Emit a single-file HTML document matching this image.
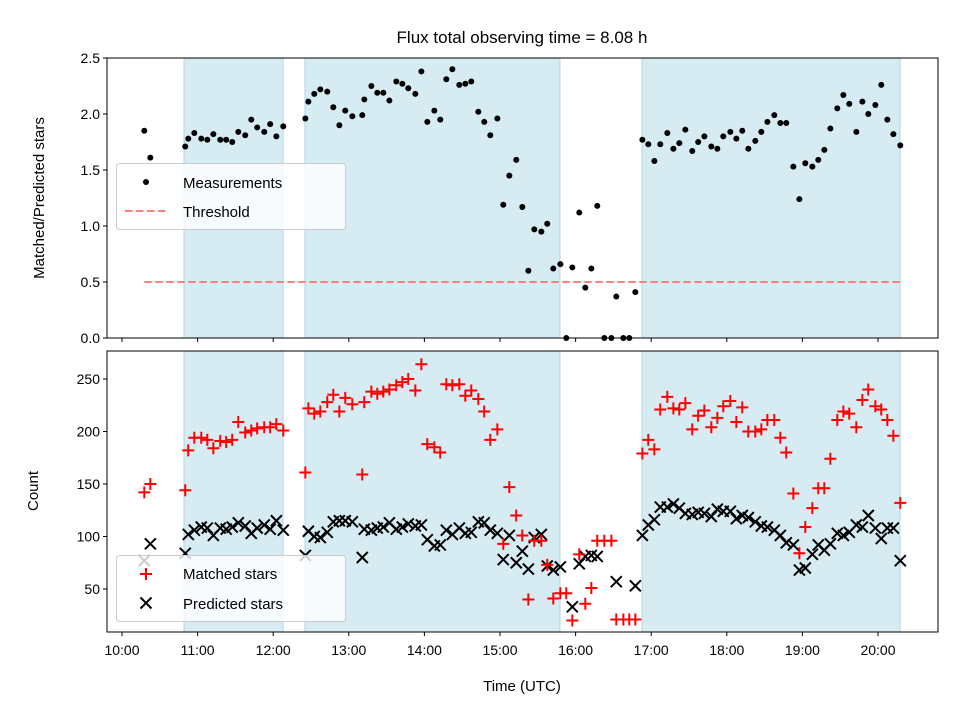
<!DOCTYPE html>
<html><head><meta charset="utf-8"><style>
body{margin:0;background:#fff}
svg{display:block;font-family:"Liberation Sans","DejaVu Sans",sans-serif}
</style></head><body>
<svg id="chart" width="960" height="720" viewBox="0 0 960 720"></svg>
<script>
// minutes after 10:00 UTC
const times=[17.7,22.5,50.2,52.6,57.4,62.9,67.7,72.5,78.0,82.7,87.5,92.3,97.8,102.6,107.3,112.9,117.6,122.5,128.0,
145.5,147.9,152.6,157.4,162.9,167.7,172.5,177.2,182.8,190.7,192.3,197.9,202.6,207.4,212.2,217.7,222.5,227.2,232.8,237.6,242.3,247.9,252.6,257.4,262.2,267.7,272.5,277.2,282.8,287.5,292.3,297.9,302.6,307.4,312.9,317.7,322.5,327.2,332.8,337.5,342.3,347.9,
352.6,357.4,362.9,367.7,372.5,377.2,382.8,388.4,392.3,397.9,402.6,407.4,
413.0,417.7,422.5,427.2,432.8,437.6,442.3,447.1,452.6,457.3,462.2,467.7,472.5,477.2,482.8,487.6,492.3,497.1,502.6,507.4,512.2,517.7,522.5,527.2,532.8,537.6,542.3,547.9,552.6,557.4,562.2,567.7,572.5,577.2,582.8,587.6,592.3,597.9,602.6,607.4,612.2,617.7];
const ratio=[1.85,1.61,1.71,1.78,1.83,1.78,1.77,1.82,1.77,1.77,1.75,1.84,1.81,1.95,1.88,1.84,1.91,1.80,1.89,
1.96,2.11,2.18,2.22,2.20,2.06,1.90,2.03,1.98,1.99,2.13,2.25,2.19,2.19,2.12,2.29,2.27,2.23,2.18,2.38,1.93,2.03,1.95,2.31,2.40,2.26,2.27,2.29,2.02,1.93,1.81,1.96,1.19,1.45,1.59,1.17,0.60,0.97,0.95,1.02,0.62,0.66,
0.0,0.63,1.12,0.45,0.62,1.18,0.0,0.0,0.37,0.0,0.0,0.41,
1.77,1.73,1.58,1.73,1.83,1.69,1.74,1.86,1.67,1.75,1.80,1.71,1.69,1.80,1.84,1.78,1.85,1.69,1.76,1.84,1.93,1.99,1.92,1.92,1.53,1.24,1.56,1.53,1.59,1.68,1.87,2.05,2.17,2.09,1.84,2.11,2.00,2.08,2.26,1.95,1.82,1.72];
const matched=[142,150,144,182,194,194,192,184,191,190,192,209,199,201,203,204,204,207,201,
161,222,217,219,228,235,219,232,226,159,228,238,236,238,240,244,247,250,239,264,188,185,180,245,244,245,234,239,231,219,192,202,93,147,120,101,40,96,96,73,41,46,
46,20,83,36,51,96,96,96,21,21,21,21,
179,192,183,221,233,222,221,227,202,215,220,204,213,224,229,209,223,200,200,202,211,211,194,180,141,84,109,127,146,146,174,211,219,217,204,230,240,224,221,211,196,132];
// null = no predicted marker shown
const predicted=[77,93,84,102,106,109,108,101,108,107,109,113,110,103,108,111,107,115,106,
82,105,100,99,104,114,115,115,114,80,107,106,108,109,113,107,109,112,110,111,97,91,92,106,102,108,103,104,114,113,106,103,78,101,75,86,69,99,102,72,68,71,
null,33,74,81,82,81,null,null,57,null,null,53,
101,111,116,128,128,131,127,122,121,123,122,119,126,124,124,117,120,118,114,110,109,106,101,94,92,68,70,83,92,87,93,103,101,104,111,109,120,108,98,108,108,77];
const spanStart=[49.2,145.2,412.7];
const spanEnd=[127.8,347.6,617.5];
const thresholdValue=0.5, thresholdStart=17.7, thresholdEnd=617.7;
const xTickLabels=["10:00","11:00","12:00","13:00","14:00","15:00","16:00","17:00","18:00","19:00","20:00"];
const xTickMinutes=[0,60,120,180,240,300,360,420,480,540,600];
const topTicks=[0,0.5,1,1.5,2,2.5];
const topTickLabels=["0.0","0.5","1.0","1.5","2.0","2.5"];
const botTicks=[50,100,150,200,250];

const NS="http://www.w3.org/2000/svg";
const svg=document.getElementById('chart');
function mk(tag,attrs,parent){const e=document.createElementNS(NS,tag);for(const k in attrs)e.setAttribute(k,attrs[k]);(parent||svg).appendChild(e);return e;}
const L=107,R=938,T1=58,B1=338,T2=351,B2=632;
const X=m=>122+m*1.26;
const Y1=v=>338-v*112;
const Y2=v=>641.5-v*1.05;

const defs=mk('defs',{});
const c1=mk('clipPath',{id:'c1'},defs);mk('rect',{x:L-4,y:T1-4,width:R-L+8,height:B1-T1+8},c1);
const c2=mk('clipPath',{id:'c2'},defs);mk('rect',{x:L,y:T2,width:R-L,height:B2-T2},c2);

const title=mk('text',{x:522,y:43,'text-anchor':'middle','font-size':17});
title.textContent='Flux total observing time = 8.08 h';



function panel(T,B,clip,name){
  const g=mk('g',{'clip-path':'url(#'+clip+')'});
  
  
  for(let i=0;i<spanStart.length;i++){
    const r=mk('rect',{x:X(spanStart[i]),y:T,width:X(spanEnd[i])-X(spanStart[i]),height:B-T,fill:'#add8e6','fill-opacity':0.5,stroke:'#add8e6','stroke-width':1},g);
    
    
  }
  return g;
}
const g1=panel(T1,B1,'c1','top');
const g2=panel(T2,B2,'c2','bottom');

const th=mk('line',{x1:X(thresholdStart),x2:X(thresholdEnd),y1:Y1(thresholdValue),y2:Y1(thresholdValue),stroke:'#ff7f7f','stroke-width':2,'stroke-dasharray':'7.5,3.5'},g1);



for(let i=0;i<times.length;i++){
  const c=mk('circle',{cx:X(times[i]),cy:Y1(ratio[i]),r:3,fill:'#000'},g1);
  
  
}
for(let i=0;i<times.length;i++){
  if(predicted[i]===null)continue;
  const x=X(times[i]),y=Y2(predicted[i]);
  const p=mk('path',{d:`M${x-5.5},${y-5.5}L${x+5.5},${y+5.5}M${x-5.5},${y+5.5}L${x+5.5},${y-5.5}`,stroke:'#000','stroke-width':2},g2);
  
  
}
for(let i=0;i<times.length;i++){
  const x=X(times[i]),y=Y2(matched[i]);
  const p=mk('path',{d:`M${x-6},${y}L${x+6},${y}M${x},${y-6}L${x},${y+6}`,stroke:'#f00','stroke-width':2},g2);
  
  
}

function frame(T,B,name){
  const r=mk('rect',{x:L,y:T,width:R-L,height:B-T,fill:'none',stroke:'#000','stroke-width':1});
  
  
  for(let i=0;i<xTickMinutes.length;i++){
    const t=mk('line',{x1:X(xTickMinutes[i]),x2:X(xTickMinutes[i]),y1:B,y2:B+4,stroke:'#000','stroke-width':1});
    
    
  }
}
frame(T1,B1,'top');frame(T2,B2,'bottom');
for(let i=0;i<xTickMinutes.length;i++){
  const t=mk('text',{x:X(xTickMinutes[i]),y:655,'text-anchor':'middle','font-size':14});
  t.textContent=xTickLabels[i];
  
  
}
for(let i=0;i<topTicks.length;i++){
  const y=Y1(topTicks[i]);
  const l=mk('line',{x1:L-4,x2:L,y1:y,y2:y,stroke:'#000'});
  
  
  const t=mk('text',{x:L-7,y:y+5,'text-anchor':'end','font-size':14});
  t.textContent=topTickLabels[i];
  
  
}
for(let i=0;i<botTicks.length;i++){
  const y=Y2(botTicks[i]);
  const l=mk('line',{x1:L-4,x2:L,y1:y,y2:y,stroke:'#000'});
  
  
  const t=mk('text',{x:L-7,y:y+5,'text-anchor':'end','font-size':14});
  t.textContent=String(botTicks[i]);
  
  
}
</script>
<svg width="960" height="720" style="position:absolute;left:0;top:0" font-family="Liberation Sans, DejaVu Sans, sans-serif">
  <text x="44" y="198" font-size="15" text-anchor="middle" transform="rotate(-90 44 198)">Matched/Predicted stars</text>
  <text x="38" y="491" font-size="15" text-anchor="middle" transform="rotate(-90 38 491)">Count</text>
  <text x="522" y="691" font-size="15" text-anchor="middle">Time (UTC)</text>
  <g>
    <rect x="116.5" y="163.5" width="229" height="66" rx="3" fill="#fff" fill-opacity="0.8" stroke="#ccc"/>
    <circle cx="146" cy="182" r="3" fill="#000"/>
    <text x="183" y="188" font-size="15">Measurements</text>
    <line x1="125" x2="167" y1="211" y2="211" stroke="#ff7f7f" stroke-width="2" stroke-dasharray="7.5,3.5"/>
    <text x="183" y="217" font-size="15">Threshold</text>
  </g>
  <g>
    <rect x="116.5" y="555.5" width="229" height="66" rx="3" fill="#fff" fill-opacity="0.8" stroke="#ccc"/>
    <path d="M140,574h12M146,568v12" stroke="#f00" stroke-width="2"/>
    <text x="183" y="579" font-size="15">Matched stars</text>
    <path d="M140.5,597.5l11,11M140.5,608.5l11,-11" stroke="#000" stroke-width="2"/>
    <text x="183" y="609" font-size="15">Predicted stars</text>
  </g>
</svg>
</body></html>
